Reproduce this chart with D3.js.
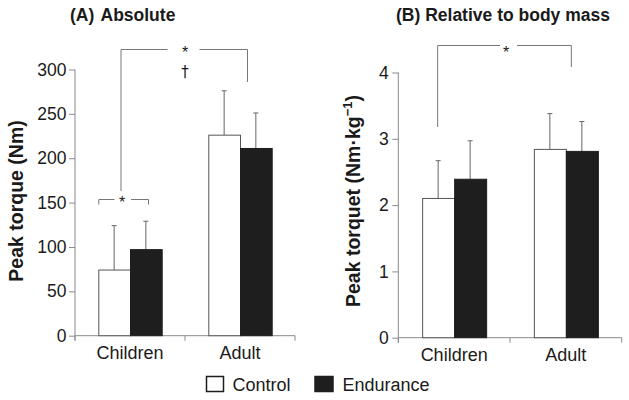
<!DOCTYPE html>
<html><head><meta charset="utf-8">
<script src="https://cdn.jsdelivr.net/npm/d3@7/dist/d3.min.js"></script>
<style>
html,body{margin:0;padding:0;background:#fff;}
svg{display:block;font-family:"Liberation Sans",Arial,Helvetica,sans-serif;}
</style></head>
<body>
<svg id="chart" width="629" height="400"></svg>
<script>
// ---- data ----
const categories = ["Children", "Adult"];
const series = ["Control", "Endurance"];
const absControl = [74, 226];
const absControlSD = [50, 50];
const absEndurance = [97, 211];
const absEnduranceSD = [32, 40];
const relControl = [2.1, 2.84];
const relControlSD = [0.57, 0.54];
const relEndurance = [2.39, 2.81];
const relEnduranceSD = [0.58, 0.45];
const absTicks = [0, 50, 100, 150, 200, 250, 300];
const relTicks = [0, 1, 2, 3, 4];

const svg = d3.select("#chart");
const fills = {Control: "#ffffff", Endurance: "#1e1e1e"};
const axisColor = "#8a8a8a";
const textColor = "#1a1a1a";

function panel(opts) {
  const g = svg.append("g");
  const x0 = d3.scaleBand().domain(categories).range(opts.xRange).paddingInner(0).paddingOuter(0);
  const x1 = d3.scaleBand().domain(series).range([0, x0.bandwidth()]).paddingInner(0).paddingOuter(opts.po);
  const y = d3.scaleLinear().domain(opts.yDomain).range(opts.yRange);

  // y axis
  const ya = g.append("g").attr("transform", `translate(${opts.xRange[0]},0)`)
    .call(d3.axisLeft(y).tickValues(opts.ticks).tickFormat(d3.format("d")).tickSize(6).tickPadding(opts.tp).tickSizeOuter(0));
  ya.select(".domain").remove();
  ya.selectAll(".tick line").attr("stroke", axisColor);
  ya.selectAll(".tick text").attr("font-size", "17.5px").attr("fill", textColor)
    .attr("font-family", "Liberation Sans, Arial, sans-serif");
  g.append("line").attr("x1", opts.xRange[0]).attr("x2", opts.xRange[0])
    .attr("y1", y(opts.yDomain[1])).attr("y2", y(0) + 5).attr("stroke", axisColor);

  // x axis
  g.append("line").attr("x1", opts.xRange[0]).attr("x2", opts.xRange[1])
    .attr("y1", y(0)).attr("y2", y(0)).attr("stroke", axisColor);
  const bounds = [opts.xRange[0], ...categories.map(c => x0(c) + x0.bandwidth())];
  g.selectAll(".xt").data(bounds).enter().append("line")
    .attr("x1", d => d).attr("x2", d => d).attr("y1", y(0)).attr("y2", y(0) + 5).attr("stroke", axisColor);
  g.selectAll(".xl").data(categories).enter().append("text")
    .attr("x", d => x0(d) + x0.bandwidth() / 2).attr("y", y(0) + 23)
    .attr("text-anchor", "middle").attr("font-size", "18px").attr("fill", textColor).text(d => d);

  // bars
  const rows = [];
  categories.forEach((c, i) => {
    rows.push({c, s: "Control", v: opts.control[i], sd: opts.controlSD[i]});
    rows.push({c, s: "Endurance", v: opts.endurance[i], sd: opts.enduranceSD[i]});
  });
  const bw = x1.bandwidth();
  // error bars
  rows.forEach(r => {
    const cx = x0(r.c) + x1(r.s) + bw / 2;
    g.append("line").attr("x1", cx).attr("x2", cx).attr("y1", y(r.v)).attr("y2", y(r.v + r.sd))
      .attr("stroke", "#666").attr("stroke-width", 1);
    g.append("line").attr("x1", cx - 2.5).attr("x2", cx + 2.5).attr("y1", y(r.v + r.sd)).attr("y2", y(r.v + r.sd))
      .attr("stroke", "#666").attr("stroke-width", 1);
  });
  g.selectAll(".bar").data(rows).enter().append("rect")
    .attr("x", d => x0(d.c) + x1(d.s) + 0.5).attr("width", bw)
    .attr("y", d => y(d.v)).attr("height", d => y(0) - y(d.v))
    .attr("fill", d => fills[d.s]).attr("stroke", d => d.s === "Control" ? "#555" : "#1e1e1e").attr("stroke-width", 1);

  // title
  g.append("text").attr("x", opts.titleX).attr("y", 21).attr("font-size", "17.5px").attr("font-weight", "bold")
    .attr("fill", textColor).attr("word-spacing", opts.ws || 0).text(opts.title);

  // y label
  const yl = g.append("text").attr("transform", `translate(${opts.ylX},201) rotate(-90)`)
    .attr("text-anchor", "middle").attr("font-size", "19.5px").attr("font-weight", "bold").attr("fill", textColor);
  opts.ylabel(yl);

  return {g, x0, x1, y};
}

function bracket(g, xl, xr, yt, ylEnd, yrEnd, gapL, gapR, sx, sy, label) {
  const c = "#777";
  g.append("path").attr("d", `M${xl},${ylEnd}V${yt}H${gapL}M${gapR},${yt}H${xr}V${yrEnd}`)
    .attr("fill", "none").attr("stroke", c).attr("stroke-width", 1);
  g.append("text").attr("x", sx).attr("y", sy).attr("text-anchor", "middle")
    .attr("font-size", "16px").attr("fill", textColor).text(label);
}

// Panel A
const A = panel({
  xRange: [75, 295], po: 0.735, yDomain: [0, 300], yRange: [335.7, 69.5], ticks: absTicks, tp: 2.5,
  control: absControl, controlSD: absControlSD, endurance: absEndurance, enduranceSD: absEnduranceSD,
  title: "(A) Absolute", titleX: 70, ws: 2, ylX: 23,
  ylabel: t => t.text("Peak torque (Nm)")
});
{
  const {g, x0, x1, y} = A;
  const cL = x0("Children"), aL = x0("Adult");
  // small bracket children
  bracket(g, cL + x1("Control") + 0.5, cL + x1("Endurance") + 18.5, 199.5, 204.5, 204.5, 114.5, 131, 122, 207.5, "*");
  // large bracket
  bracket(g, 121, aL + x1("Endurance") + 7.5, 49.5, 191, 82, 167.5, 199.5, 185, 58, "*");
  g.append("text").attr("x", 185).attr("y", 77).attr("text-anchor", "middle")
    .attr("font-size", "15px").attr("fill", "#1a1a1a").attr("font-family", "DejaVu Sans, sans-serif").text("†");
}

// Panel B
const B = panel({
  xRange: [398.3, 621.7], po: 0.745, yDomain: [0, 4], yRange: [337.7, 72.5], ticks: relTicks, tp: 3.5,
  control: relControl, controlSD: relControlSD, endurance: relEndurance, enduranceSD: relEnduranceSD,
  title: "(B) Relative to body mass", titleX: 396, ws: 0, ylX: 360,
  ylabel: t => {
    t.append("tspan").text("Peak torquet (Nm·kg");
    t.append("tspan").attr("font-size", "13px").attr("dy", -8).text("−1");
    t.append("tspan").attr("dy", 8).text(")");
  }
});
{
  const {g, x0, x1} = B;
  const cL = x0("Children"), aL = x0("Adult");
  bracket(g, cL + x1("Control") + 15.5, aL + x1("Control") + 37.5, 45.5, 127, 67, 500, 517, 506, 58, "*");
}

// Legend
const leg = svg.append("g");
const legItems = [{s: "Control", bx: 206.5, tx: 232.5}, {s: "Endurance", bx: 315, tx: 342.5}];
legItems.forEach(d => {
  leg.append("rect").attr("x", d.bx).attr("y", 376.5).attr("width", d.s === "Control" ? 17 : 18).attr("height", 15)
    .attr("fill", fills[d.s]).attr("stroke", "#1e1e1e").attr("stroke-width", 1.5);
  leg.append("text").attr("x", d.tx).attr("y", 391).attr("font-size", "18px").attr("fill", textColor).text(d.s);
});
</script>
</body></html>
